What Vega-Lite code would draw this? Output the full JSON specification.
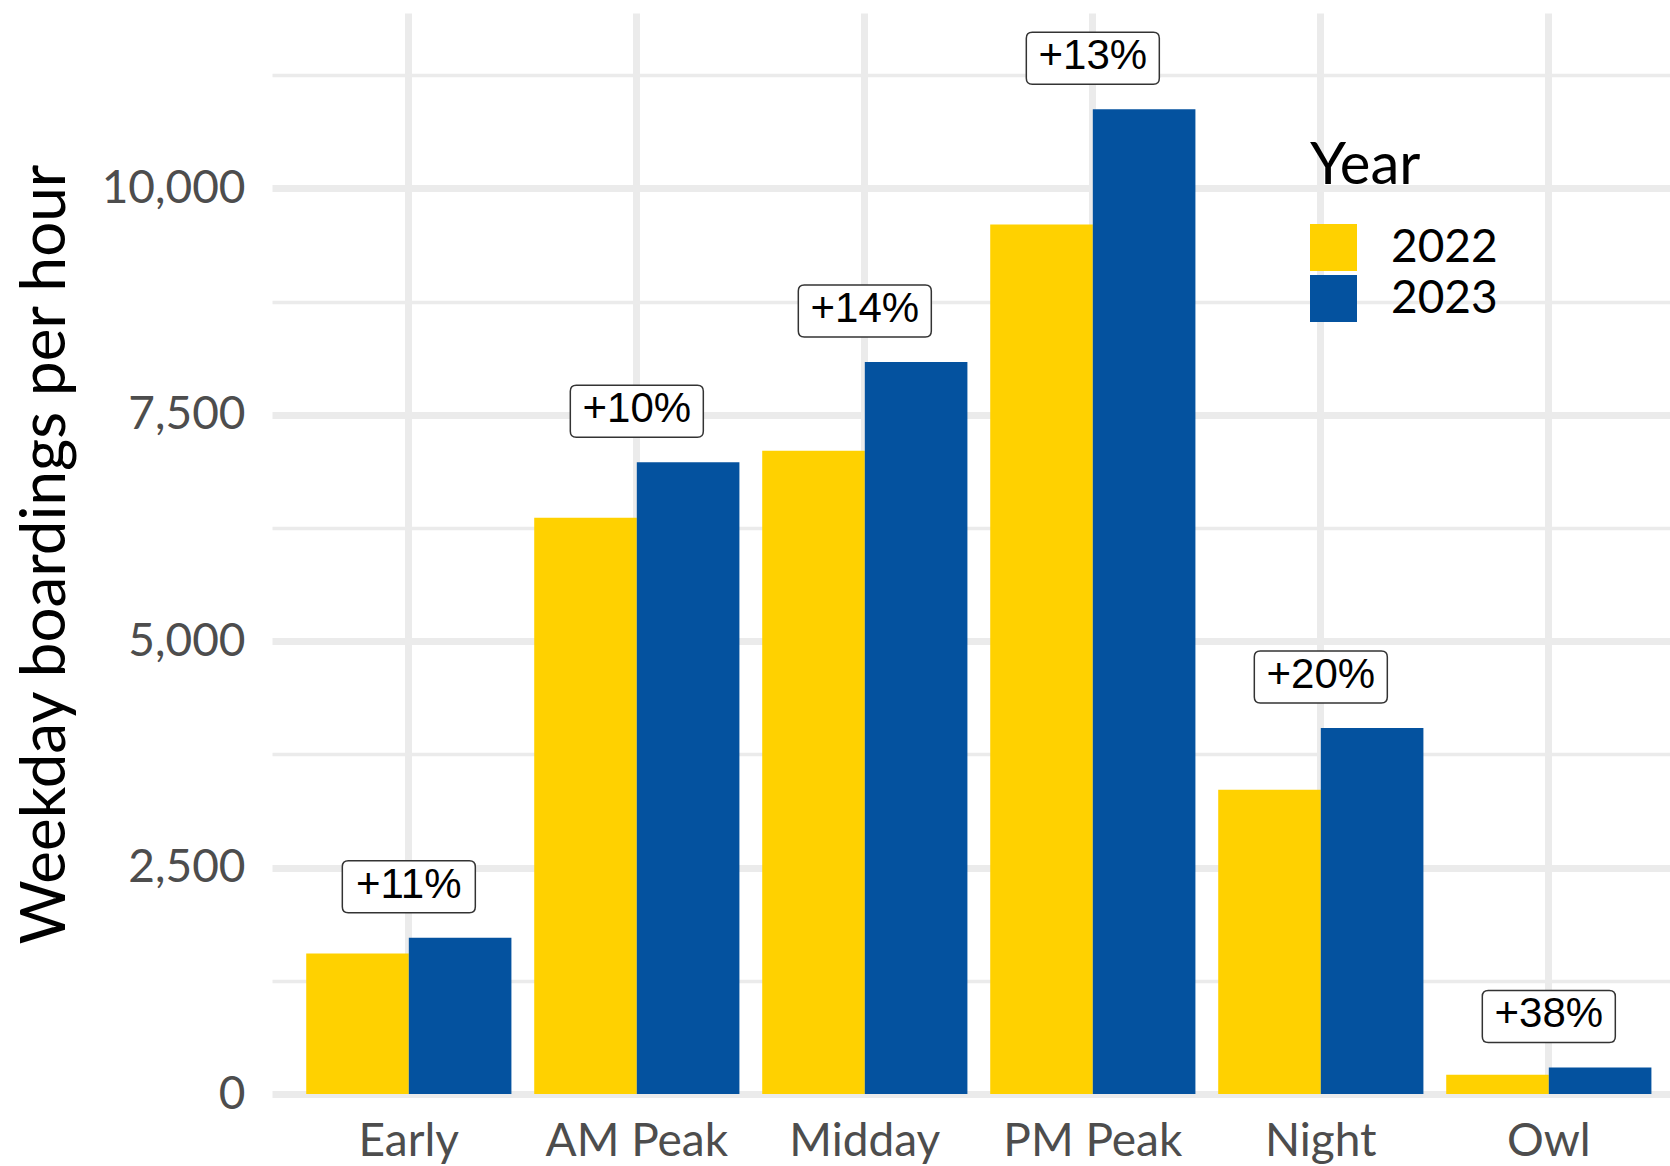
{
  "$schema": "https://vega.github.io/schema/vega-lite/v6.json",
  "width": 1398,
  "height": 1081,
  "autosize": {"type": "none"},
  "padding": {"left": 272, "top": 13, "right": 0, "bottom": 72},
  "background": "white",
  "config": {
    "view": {"stroke": null},
    "font": "Lato",
    "legend": {"padding": 0}
  },
  "data": {
    "values": [
      {"period": "Early", "year": "2022", "boardings": 1552, "change": "+11%"},
      {"period": "Early", "year": "2023", "boardings": 1725, "change": "+11%"},
      {"period": "AM Peak", "year": "2022", "boardings": 6363, "change": "+10%"},
      {"period": "AM Peak", "year": "2023", "boardings": 6976, "change": "+10%"},
      {"period": "Midday", "year": "2022", "boardings": 7105, "change": "+14%"},
      {"period": "Midday", "year": "2023", "boardings": 8083, "change": "+14%"},
      {"period": "PM Peak", "year": "2022", "boardings": 9602, "change": "+13%"},
      {"period": "PM Peak", "year": "2023", "boardings": 10874, "change": "+13%"},
      {"period": "Night", "year": "2022", "boardings": 3360, "change": "+20%"},
      {"period": "Night", "year": "2023", "boardings": 4042, "change": "+20%"},
      {"period": "Owl", "year": "2022", "boardings": 213, "change": "+38%"},
      {"period": "Owl", "year": "2023", "boardings": 294, "change": "+38%"}
    ]
  },
  "encoding": {
    "x": {
      "field": "period",
      "type": "nominal",
      "sort": ["Early", "AM Peak", "Midday", "PM Peak", "Night", "Owl"],
      "scale": {"paddingInner": 0.1, "paddingOuter": 0.1158, "align": 0.648},
      "axis": {
        "title": null,
        "grid": true,
        "gridColor": "#EBEBEB",
        "gridWidth": 7,
        "bandPosition": 0.5,
        "ticks": false,
        "domain": false,
        "labelAngle": 0,
        "labelFont": "Lato",
        "labelFontSize": 46,
        "labelColor": "#4D4D4D",
        "labelPadding": 25,
        "labelLimit": 400
      }
    }
  },
  "layer": [
    {
      "mark": {"type": "bar", "opacity": 0},
      "encoding": {
        "y": {
          "field": "boardings",
          "type": "quantitative",
          "scale": {"domain": [0, 11938], "nice": false, "zero": true},
          "axis": {
            "orient": "right",
            "values": [1250, 3750, 6250, 8750, 11250],
            "grid": true,
            "gridColor": "#EBEBEB",
            "gridWidth": 3.5,
            "labels": false,
            "ticks": false,
            "domain": false,
            "title": null
          }
        }
      }
    },
    {
      "layer": [
        {
          "mark": {"type": "bar"},
          "encoding": {
            "xOffset": {
              "field": "year",
              "type": "nominal",
              "scale": {"paddingInner": 0, "paddingOuter": 0}
            },
            "y": {
              "field": "boardings",
              "type": "quantitative",
              "scale": {"domain": [0, 11938], "nice": false, "zero": true},
              "axis": {
                "orient": "left",
                "values": [0, 2500, 5000, 7500, 10000],
                "labelExpr": "format(datum.value, ',.0f')",
                "grid": true,
                "gridColor": "#EBEBEB",
                "gridWidth": 7,
                "ticks": false,
                "domain": false,
                "labelFont": "Lato",
                "labelFontSize": 46,
                "labelColor": "#4D4D4D",
                "labelPadding": 27,
                "labelLimit": 400,
                "title": "Weekday boardings per hour",
                "titleFont": "Lato",
                "titleFontSize": 62,
                "titleFontWeight": "normal",
                "titleColor": "#000000",
                "titleAngle": 270,
                "titleBaseline": "alphabetic",
                "titleAlign": "center",
                "titleX": -208,
                "titleY": 541,
                "titleLimit": 1200
              }
            },
            "color": {
              "field": "year",
              "type": "nominal",
              "scale": {"domain": ["2022", "2023"], "range": ["#FFD100", "#04529F"]},
              "legend": {
                "orient": "none",
                "legendX": 1038,
                "legendY": 125,
                "title": "Year",
                "titleFont": "Lato",
                "titleFontSize": 58,
                "titleFontWeight": "normal",
                "titleColor": "#000000",
                "titlePadding": 28,
                "symbolType": "square",
                "symbolSize": 2209,
                "symbolStrokeWidth": 0,
                "symbolOpacity": 1,
                "rowPadding": 4,
                "labelFont": "Lato",
                "labelFontSize": 46,
                "labelColor": "#000000",
                "labelOffset": 34
              }
            }
          }
        },
        {
          "transform": [{"filter": "datum.year == '2023'"}],
          "mark": {
            "type": "point",
            "shape": "M-0.91,-0.391 L0.91,-0.391 Q1,-0.391 1,-0.301 L1,0.301 Q1,0.391 0.91,0.391 L-0.91,0.391 Q-1,0.391 -1,0.301 L-1,-0.301 Q-1,-0.391 -0.91,-0.391 Z",
            "size": 17689,
            "filled": true,
            "fill": "#FFFFFF",
            "stroke": "#333333",
            "strokeWidth": 1.5,
            "opacity": 1,
            "yOffset": -51
          },
          "encoding": {
            "y": {"field": "boardings", "type": "quantitative"}
          }
        },
        {
          "transform": [{"filter": "datum.year == '2023'"}],
          "mark": {
            "type": "text",
            "font": "Liberation Sans",
            "fontSize": 42,
            "color": "#000000",
            "align": "center",
            "baseline": "middle",
            "yOffset": -51,
            "dy": -2
          },
          "encoding": {
            "y": {"field": "boardings", "type": "quantitative"},
            "text": {"field": "change", "type": "nominal"}
          }
        }
      ]
    }
  ],
  "resolve": {"axis": {"y": "independent"}}
}
